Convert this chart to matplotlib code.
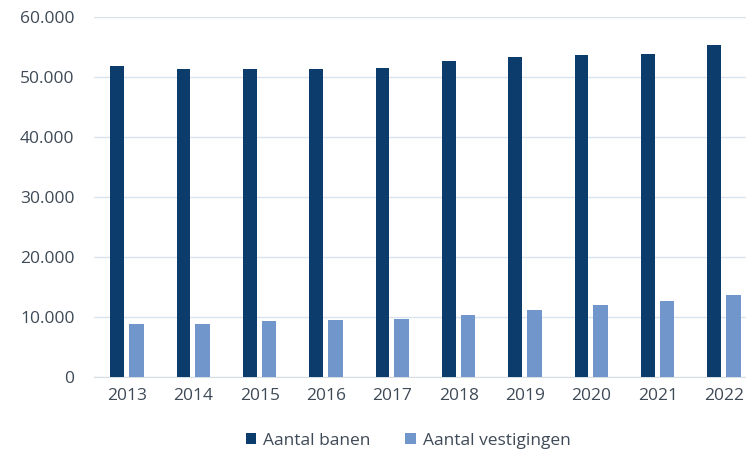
import numpy as np
import matplotlib.pyplot as plt
from matplotlib.ticker import FuncFormatter

# Gegevens
jaren = ['2013', '2014', '2015', '2016', '2017', '2018', '2019', '2020', '2021', '2022']
banen = [51800, 51300, 51300, 51300, 51550, 52700, 53400, 53600, 53900, 55400]
vestigingen = [8860, 8860, 9320, 9540, 9710, 10340, 11190, 12030, 12640, 13660]

kleur_banen = '#0b3c6c'
kleur_vest = '#7196cc'
tekst_kleur = '#3e4a57'

plt.rcParams['font.family'] = ['Open Sans', 'DejaVu Sans']

fig = plt.figure(figsize=(7.46, 4.57), dpi=100)
ax = fig.add_axes([0.126, 0.175, 0.874, 0.788])

x = np.arange(len(jaren))
ax.bar(x - 0.149, banen, width=0.205, color=kleur_banen, label='Aantal banen', zorder=3)
ax.bar(x + 0.14, vestigingen, width=0.22, color=kleur_vest, label='Aantal vestigingen', zorder=3)

# Assen
ax.set_ylim(0, 60000)
ax.set_xlim(-0.5, 9.33)
ax.set_yticks(np.arange(0, 60001, 10000))
ax.yaxis.set_major_formatter(FuncFormatter(lambda v, p: f'{int(v):,}'.replace(',', '.')))
ax.set_xticks(x)
ax.set_xticklabels(jaren)
ax.grid(axis='y', color='#d7e3ee', linewidth=1, zorder=0)
for s in ['top', 'right', 'left']:
    ax.spines[s].set_visible(False)
ax.spines['bottom'].set_color('#d7dde3')
ax.tick_params(axis='both', length=0, labelsize=12.5, colors=tekst_kleur)
ax.tick_params(axis='y', pad=14)
ax.tick_params(axis='x', pad=8)

# Legenda
fig.legend(loc='center', bbox_to_anchor=(0.547, 0.035), ncol=2, frameon=False,
           fontsize=12.5, handlelength=0.6, handleheight=0.6, handletextpad=0.4,
           columnspacing=2.0, labelcolor=tekst_kleur)

fig.savefig('out.png', dpi=100)
